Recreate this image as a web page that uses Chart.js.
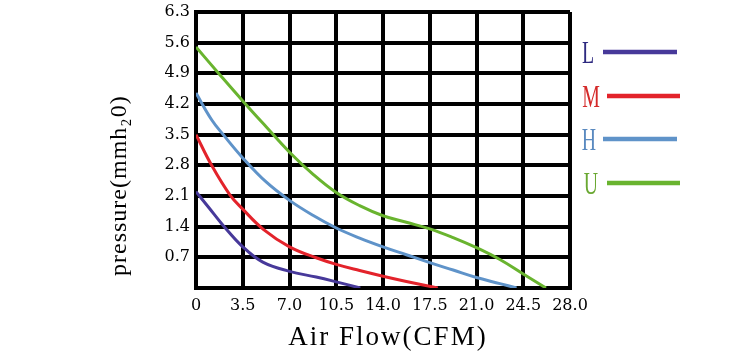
<!DOCTYPE html>
<html><head><meta charset="utf-8">
<script src="https://cdn.jsdelivr.net/npm/chart.js@4/dist/chart.umd.min.js"></script>
<style>html,body{margin:0;padding:0;background:#fff}#wrap{width:750px;height:355px}</style>
</head><body><div id="wrap"><canvas id="c" width="750" height="355"></canvas></div>
<script>
const seriesNames = ['L', 'M', 'H', 'U'];
const seriesColors = ['#47399a', '#e3232b', '#5f93c9', '#69b42f'];
const legendTextColors = ['#2e2a80', '#d42a2a', '#5a8ac0', '#6aa832'];

const flowL = [0, 1, 2, 3.5, 5, 7, 9, 10.5, 12.3];
const pressL = [2.2, 1.82, 1.44, 0.94, 0.59, 0.38, 0.25, 0.14, 0];

const flowM = [0, 1.17, 2.55, 3.5, 5.04, 7, 9, 10.5, 12.25, 14, 15.75, 18.1];
const pressM = [3.5, 2.8, 2.12, 1.8, 1.34, 0.94, 0.69, 0.54, 0.4, 0.27, 0.15, 0];

const flowH = [0, 1.17, 2.04, 3.5, 5.25, 7, 8.75, 10.5, 12.25, 14, 15.75, 17.5, 19.25, 21, 22.75, 24];
const pressH = [4.45, 3.84, 3.5, 2.97, 2.42, 2.0, 1.66, 1.37, 1.14, 0.94, 0.76, 0.58, 0.41, 0.24, 0.1, 0];

const flowU = [0, 1.75, 3.5, 5.25, 7, 8.75, 10.5, 12.25, 14, 15.75, 17.5, 19.25, 21, 22.75, 24.5, 26.2];
const pressU = [5.5, 4.88, 4.27, 3.68, 3.1, 2.6, 2.18, 1.88, 1.65, 1.5, 1.35, 1.15, 0.92, 0.65, 0.32, 0];

const xTicks = [0, 3.5, 7, 10.5, 14, 17.5, 21, 24.5, 28];
const yTicks = [0, 0.7, 1.4, 2.1, 2.8, 3.5, 4.2, 4.9, 5.6, 6.3];
const xTitle = 'Air Flow(CFM)';
const yTitle = 'pressure(mmh\u20820)';

const flows = [flowL, flowM, flowH, flowU];
const presses = [pressL, pressM, pressH, pressU];

const datasets = seriesNames.map((n, i) => ({
  label: n,
  data: flows[i].map((x, j) => ({x: x, y: presses[i][j]})),
  borderColor: seriesColors[i],
  backgroundColor: seriesColors[i],
  borderWidth: 3,
  pointRadius: 0,
  tension: 0.4,
  fill: false
}));

const decor = {
  id: 'decor',
  afterDraw(chart) {
    const ctx = chart.ctx;
    const ca = chart.chartArea;
    ctx.save();
    ctx.fillStyle = '#000';
    ctx.font = '27px "Liberation Serif"';
    ctx.letterSpacing = '2px';
    ctx.textAlign = 'center';
    ctx.textBaseline = 'alphabetic';
    ctx.fillText(xTitle, (ca.left + ca.right) / 2 + 5, 345);
    ctx.restore();

    ctx.save();
    ctx.fillStyle = '#000';
    ctx.font = '24px "Liberation Serif"';
    ctx.letterSpacing = '1px';
    ctx.translate(126, 276);
    ctx.rotate(-Math.PI / 2);
    ctx.textAlign = 'left';
    ctx.textBaseline = 'alphabetic';
    ctx.fillText(yTitle, 0, 0);
    ctx.restore();

    const rowY = [52, 96, 139, 183];
    const lineX = [[603, 677], [607, 680], [603, 677], [607, 680]];
    const letterX = [588, 591, 589, 591];
    chart.data.datasets.forEach((ds, i) => {
      ctx.save();
      ctx.fillStyle = legendTextColors[i];
      ctx.font = '32px "Liberation Serif"';
      ctx.textAlign = 'center';
      ctx.textBaseline = 'alphabetic';
      ctx.translate(letterX[i], rowY[i] + 11);
      ctx.scale(0.62, 1);
      ctx.fillText(ds.label, 0, 0);
      ctx.restore();
      ctx.save();
      ctx.strokeStyle = ds.borderColor;
      ctx.lineWidth = 4.5;
      ctx.beginPath();
      ctx.moveTo(lineX[i][0], rowY[i]);
      ctx.lineTo(lineX[i][1], rowY[i]);
      ctx.stroke();
      ctx.restore();
    });
  }
};

new Chart(document.getElementById('c'), {
  type: 'line',
  data: {datasets: datasets},
  options: {
    responsive: false,
    devicePixelRatio: 1,
    animation: false,
    layout: {padding: {left: 0, right: 180, top: 12, bottom: 0}},
    plugins: {legend: {display: false}, tooltip: {enabled: false}, title: {display: false}},
    scales: {
      x: {
        type: 'linear', min: 0, max: 28,
        afterBuildTicks: s => { s.ticks = xTicks.map(v => ({value: v})); },
        afterFit: s => { s.height = 67; s.paddingLeft = 0; s.paddingRight = 0; },
        ticks: {
          color: '#000', padding: 8, maxRotation: 0, autoSkip: false,
          font: {family: '"DejaVu Serif"', size: 16},
          callback: v => v === 0 ? '0' : Number(v).toFixed(1)
        },
        grid: {color: '#000', lineWidth: 4, drawTicks: false},
        border: {color: '#000', width: 4}
      },
      y: {
        type: 'linear', min: 0, max: 6.3,
        afterBuildTicks: s => { s.ticks = yTicks.map(v => ({value: v})); },
        afterFit: s => { s.width = 196; s.paddingTop = 0; s.paddingBottom = 0; },
        ticks: {
          color: '#000', padding: 6, autoSkip: false,
          font: {family: '"DejaVu Serif"', size: 16},
          callback: v => v === 0 ? '' : Number(v).toFixed(1)
        },
        grid: {color: '#000', lineWidth: 4, drawTicks: false},
        border: {color: '#000', width: 4}
      }
    }
  },
  plugins: [decor]
});
</script>
</body></html>
